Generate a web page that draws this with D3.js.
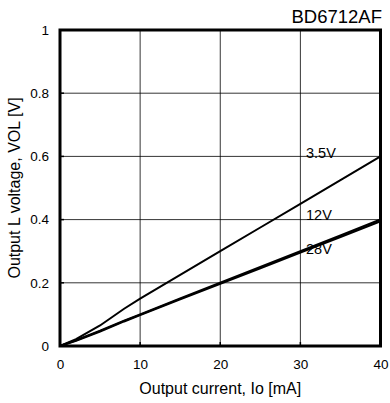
<!DOCTYPE html>
<html>
<head>
<meta charset="utf-8">
<script src="https://cdn.jsdelivr.net/npm/d3@7"></script>
<style>
  body { margin: 0; background: #fff; }
  text { font-family: "Liberation Sans", Arial, sans-serif; fill: #000; }
</style>
</head>
<body>
<div id="chart"></div>
<script>
// Dados
const current = [0, 2, 5, 8, 10, 15, 20, 25, 30, 35, 40];
const vol35 = [0, 0.022, 0.065, 0.118, 0.150, 0.225, 0.300, 0.375, 0.450, 0.525, 0.600];
const vol12 = [0, 0.018, 0.048, 0.080, 0.100, 0.150, 0.200, 0.250, 0.300, 0.350, 0.400];
const vol28 = [0, 0.017, 0.046, 0.078, 0.098, 0.148, 0.197, 0.246, 0.296, 0.345, 0.395];
const seriesNames = ["3.5V", "12V", "28V"];
const labelValues = [0.595, 0.398, 0.29];
const xTicks = [0, 10, 20, 30, 40];
const yTicks = [0, 0.2, 0.4, 0.6, 0.8, 1];

const width = 390, height = 403;

const svg = d3.select("#chart").append("svg")
    .attr("width", width)
    .attr("height", height);

const x = d3.scaleLinear().domain([0, 40]).range([60, 380.5]);
const y = d3.scaleLinear().domain([0, 1]).range([346, 30]);

// Grade
svg.append("g").selectAll("line")
    .data(xTicks.slice(1, -1))
    .enter().append("line")
    .attr("x1", d => x(d)).attr("x2", d => x(d))
    .attr("y1", y(0)).attr("y2", y(1))
    .attr("stroke", "#000").attr("stroke-width", 0.8);

svg.append("g").selectAll("line")
    .data(yTicks.slice(1, -1))
    .enter().append("line")
    .attr("x1", x(0)).attr("x2", x(40))
    .attr("y1", d => y(d)).attr("y2", d => y(d))
    .attr("stroke", "#000").attr("stroke-width", 0.8);

// Eixos
const xAxis = d3.axisBottom(x).tickValues(xTicks).tickSize(0).tickPadding(13);
svg.append("g")
    .attr("transform", `translate(0,${y(0)})`)
    .call(xAxis)
    .call(g => g.select(".domain").remove())
    .selectAll("text").style("font-size", "13.5px")
    .attr("font-family", null);

const yAxis = d3.axisLeft(y).tickValues(yTicks).tickSize(0).tickPadding(11)
    .tickFormat(d => d === 0 || d === 1 ? d3.format("d")(d) : d3.format(".1f")(d));
svg.append("g")
    .attr("transform", `translate(${x(0)},0)`)
    .call(yAxis)
    .call(g => g.select(".domain").remove())
    .selectAll("text").style("font-size", "13.5px")
    .attr("font-family", null);

// Marcas pequenas internas
svg.append("g").selectAll("line")
    .data(yTicks.slice(1, -1))
    .enter().append("line")
    .attr("x1", x(0)).attr("x2", x(0) + 4)
    .attr("y1", d => y(d)).attr("y2", d => y(d))
    .attr("stroke", "#000").attr("stroke-width", 1.5);
svg.append("g").selectAll("line")
    .data(xTicks.slice(1, -1))
    .enter().append("line")
    .attr("x1", d => x(d)).attr("x2", d => x(d))
    .attr("y1", y(0)).attr("y2", y(0) - 4)
    .attr("stroke", "#000").attr("stroke-width", 1.5);

// Moldura
svg.append("rect")
    .attr("x", x(0)).attr("y", y(1))
    .attr("width", x(40) - x(0)).attr("height", y(0) - y(1))
    .attr("fill", "none").attr("stroke", "#000").attr("stroke-width", 3);

// Curvas
const line = d3.line().x(d => x(d[0])).y(d => y(d[1]));
const allSeries = [vol35, vol12, vol28];
const widths = [2, 2.2, 2.2];
allSeries.forEach((vals, i) => {
    svg.append("path")
        .datum(current.map((c, j) => [c, vals[j]]))
        .attr("d", line)
        .attr("fill", "none")
        .attr("stroke", "#000")
        .attr("stroke-width", widths[i]);
});

// Rótulos das curvas
svg.append("g").selectAll("text")
    .data(seriesNames)
    .enter().append("text")
    .attr("x", 306)
    .attr("y", (d, i) => y(labelValues[i]))
    .style("font-size", "14.5px")
    .text(d => d);

// Títulos
svg.append("text")
    .attr("x", 382).attr("y", 23)
    .attr("text-anchor", "end")
    .style("font-size", "18.5px")
    .text("BD6712AF");

svg.append("text")
    .attr("x", (x(0) + x(40)) / 2).attr("y", 394)
    .attr("text-anchor", "middle")
    .style("font-size", "16px")
    .text("Output current, Io [mA]");

svg.append("text")
    .attr("transform", `translate(19.5,${(y(0) + y(1)) / 2}) rotate(-90)`)
    .attr("text-anchor", "middle")
    .style("font-size", "16px")
    .text("Output L voltage, VOL [V]");
</script>
</body>
</html>
